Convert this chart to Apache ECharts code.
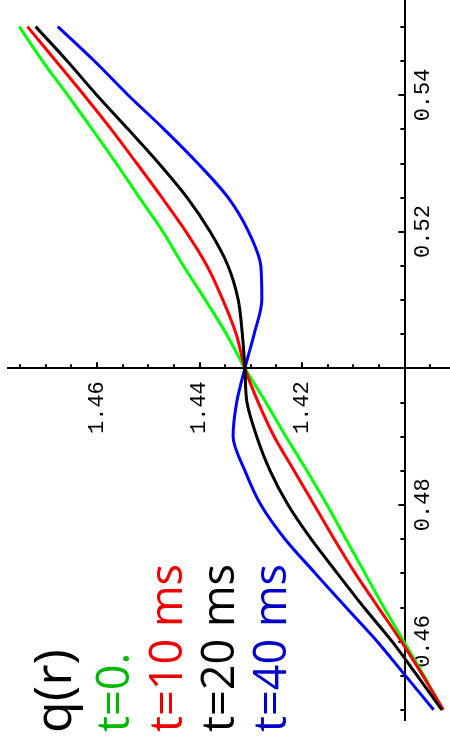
<!DOCTYPE html>
<html>
<head>
<meta charset="utf-8">
<script src="https://cdn.jsdelivr.net/npm/echarts@6/dist/echarts.min.js"></script>
<style>
html,body{margin:0;padding:0;background:#fff;}
#chart{width:450px;height:749px;}
</style>
</head>
<body>
<div id="chart"></div>
<script>
// ---- data ----
const rValues = [0.55, 0.545, 0.54, 0.535, 0.53, 0.525, 0.52, 0.515, 0.51, 0.505, 0.50,
                 0.495, 0.49, 0.485, 0.48, 0.475, 0.47, 0.465, 0.46, 0.455, 0.45];
const qT0  = [1.4751, 1.4706, 1.4657, 1.4609, 1.4562, 1.4517, 1.4471, 1.4431, 1.4388, 1.4347, 1.4311,
              1.4270, 1.4231, 1.4190, 1.4151, 1.4114, 1.4077, 1.4040, 1.4001, 1.3962, 1.3926];
const qT10 = [1.4735, 1.4680, 1.4625, 1.4572, 1.4522, 1.4473, 1.4426, 1.4385, 1.4354, 1.4328, 1.4311,
              1.4285, 1.4254, 1.4215, 1.4176, 1.4137, 1.4096, 1.4051, 1.4006, 1.3964, 1.3924];
const qT20 = [1.4719, 1.4658, 1.4600, 1.4539, 1.4479, 1.4424, 1.4379, 1.4344, 1.4324, 1.4316, 1.4311,
              1.4307, 1.4288, 1.4262, 1.4227, 1.4182, 1.4131, 1.4079, 1.4024, 1.3975, 1.3927];
const qT40 = [1.4676, 1.4605, 1.4539, 1.4469, 1.4403, 1.4344, 1.4304, 1.4280, 1.4278, 1.4293, 1.4311,
              1.4327, 1.4334, 1.4311, 1.4280, 1.4233, 1.4174, 1.4114, 1.4053, 1.3998, 1.3943];

const qTicks = [1.42, 1.44, 1.46];
const qMinorTicks = [1.395, 1.405, 1.41, 1.415, 1.425, 1.43, 1.435, 1.445, 1.45, 1.455, 1.465, 1.47, 1.475];
const rTicks = [0.46, 0.48, 0.52, 0.54];
const rMinorTicks = [0.45, 0.455, 0.465, 0.47, 0.475, 0.485, 0.49, 0.495, 0.505, 0.51, 0.515,
                     0.525, 0.53, 0.535, 0.545, 0.55];

const qCross = 1.40;   // q value where the r axis is drawn
const rCross = 0.50;   // r value where the q axis is drawn
const qRange = [1.3911, 1.4773];
const rRange = [0.4485, 0.5539];

const titleText = 'q(r)';
const legendLabels = ['t=0.', 't=10 ms', 't=20 ms', 't=40 ms'];
const lineColors = ['#00ff00', '#ff0000', '#000000', '#0000ff'];
const textColors = ['#00b800', '#ee0000', '#000000', '#0000cc'];

// ---- build ----
const oq = v => +(v - qCross).toFixed(6);
const or = v => +(v - rCross).toFixed(6);

const seriesQ = [qT0, qT10, qT20, qT40];
const axisLineStyle = { color: '#000', width: 2 };
const tickFont = { fontFamily: 'Liberation Mono', fontSize: 22, color: '#000' };

function xAxisDef(major, off) {
  return {
    type: 'value', inverse: true, position: 'bottom', offset: off,
    min: oq(qRange[0]), max: oq(qRange[1]),
    splitLine: { show: false },
    axisLine: { show: true, onZero: false, lineStyle: axisLineStyle },
    axisTick: { show: true, inside: true, length: major ? 6 : 4,
                customValues: (major ? qTicks : qMinorTicks).map(oq),
                lineStyle: { color: '#000', width: 2 } },
    axisLabel: major ? Object.assign({ show: true, rotate: 90, margin: 13,
                customValues: qTicks.map(oq),
                formatter: v => (v + qCross).toFixed(2) }, tickFont) : { show: false }
  };
}
function yAxisDef(major, off) {
  return {
    type: 'value', position: 'left', offset: off,
    min: or(rRange[0]), max: or(rRange[1]),
    splitLine: { show: false },
    axisLine: { show: true, onZero: false, lineStyle: axisLineStyle },
    axisTick: { show: true, inside: false, length: major ? 6 : 4,
                customValues: (major ? rTicks : rMinorTicks).map(or),
                lineStyle: { color: '#000', width: 2 } },
    axisLabel: major ? Object.assign({ show: true, inside: true, rotate: 90, margin: 8,
                customValues: rTicks.map(or),
                formatter: v => (v + rCross).toFixed(2) }, tickFont) : { show: false }
  };
}

const order = [0, 1, 3, 2]; // draw black on top
const series = order.map(i => ({
  name: legendLabels[i],
  type: 'line',
  xAxisIndex: 0, yAxisIndex: 0,
  showSymbol: false,
  smooth: 0.3,
  animation: false,
  lineStyle: { color: lineColors[i], width: 3 },
  z: 2 + order.indexOf(i),
  data: rValues.map((r, k) => [oq(seriesQ[i][k]), or(r)])
}));

const legendFont = 'Open Sans';
const graphics = [{
  type: 'text', x: 56, y: 733, rotation: Math.PI / 2,
  style: { text: titleText, fill: '#000', font: '52px "' + legendFont + '"',
           textAlign: 'left', textVerticalAlign: 'middle' }
}];
const legendX = [116, 169, 221, 273];
legendLabels.forEach((t, i) => {
  graphics.push({
    type: 'text', x: legendX[i], y: 732, rotation: Math.PI / 2,
    style: { text: t, fill: textColors[i], font: '45px "' + legendFont + '"',
             textAlign: 'left', textVerticalAlign: 'middle' }
  });
});

const grid = { left: 8, right: 0, top: 0, bottom: 29, containLabel: false, outerBoundsMode: 'none' };
const chart = echarts.init(document.getElementById('chart'), null, { renderer: 'canvas' });
chart.setOption({
  animation: false,
  backgroundColor: '#fff',
  grid: grid,
  xAxis: [xAxisDef(true, 0), xAxisDef(false, 0)],
  yAxis: [yAxisDef(true, 0), yAxisDef(false, 0)],
  series: series,
  graphic: graphics
});
// move the axes so that they cross at (qCross, rCross), using the library's own scales
const origin = chart.convertToPixel({ gridIndex: 0 }, [0, 0]);
const rect = chart.getModel().getComponent('grid', 0).coordinateSystem.getRect();
const xOff = -(rect.y + rect.height - origin[1]);
const yOff = -(origin[0] - rect.x);
chart.setOption({
  xAxis: [xAxisDef(true, xOff), xAxisDef(false, xOff)],
  yAxis: [yAxisDef(true, yOff), yAxisDef(false, yOff)]
});
</script>
</body>
</html>
